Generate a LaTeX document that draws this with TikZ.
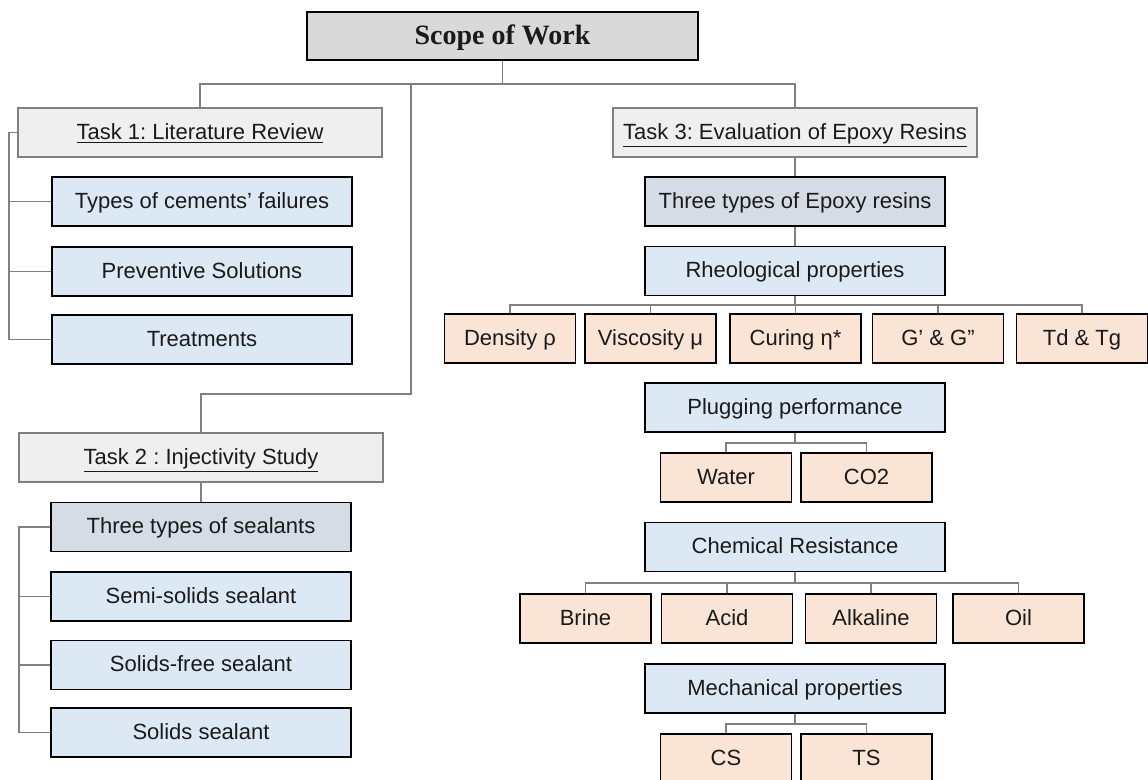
\documentclass[tikz,border=0pt]{standalone}
\usepackage{fontspec}
\setmainfont{Liberation Sans}
\newfontfamily\titleserif{Liberation Serif}
\usepackage{xcolor}
\definecolor{scopegray}{RGB}{217, 217, 217}
\definecolor{taskgray}{RGB}{239, 239, 239}
\definecolor{typeblue}{RGB}{214, 220, 229}
\definecolor{propblue}{RGB}{221, 232, 245}
\definecolor{testpeach}{RGB}{250, 228, 214}
\definecolor{linkgray}{RGB}{128, 128, 128}
\definecolor{textdark}{RGB}{26, 26, 26}
\usepackage{tikz}
\usetikzlibrary{positioning, calc}
\frenchspacing

\begin{document}
\begin{tikzpicture}[x=0.5pt, y=-0.5pt,
		box/.style={draw=black, line width=0.9pt, minimum height=24.5pt, inner sep=2pt,
			text height=9pt, text depth=2pt, text=textdark, font=\fontsize{11}{13}\selectfont},
		scopebox/.style={box, fill=scopegray, line width=1.1pt, minimum width=195.5pt,
			minimum height=24pt, text height=11pt, text depth=2.5pt,
			font=\titleserif\bfseries\fontsize{14}{16}\selectfont},
		taskbox/.style={box, draw=linkgray, fill=taskgray, minimum width=182pt},
		typebox/.style={box, fill=typeblue, minimum width=150pt},
		propbox/.style={box, fill=propblue, minimum width=150pt},
		testbox/.style={box, fill=testpeach, minimum width=65.5pt},
		link/.style={draw=linkgray, line width=0.6pt}]
		\useasboundingbox[fill=white] (0,0) rectangle (1148,780);

		\node[scopebox] (scope) at (502.5,36) {Scope of Work};

		\node[taskbox] (task1) at (200,132.5) {\underline{Task 1: Literature Review}};
		\node[propbox] (fail) at (202,201.5) {Types of cements’ failures};
		\node[propbox] (prevent) at (202,271.5) {Preventive Solutions};
		\node[propbox] (treat) at (202,339.5) {Treatments};

		\node[taskbox] (task2) at (201,457.5) {\underline{Task 2 : Injectivity Study}};
		\node[typebox] (sealtypes) at (201,527) {Three types of sealants};
		\node[propbox] (semisolid) at (201,596.5) {Semi-solids sealant};
		\node[propbox] (solidfree) at (201,665) {Solids-free sealant};
		\node[propbox] (solid) at (201,732.5) {Solids sealant};

		\node[taskbox] (task3) at (795,132.5) {\underline{Task 3: Evaluation of Epoxy Resins}};
		\node[typebox] (epoxy) at (795,201.5) {Three types of Epoxy resins};
		\node[propbox] (rheo) at (795,271) {Rheological properties};
		\node[testbox] (dens) at (510,338.5) {Density ρ};
		\node[testbox] (visc) at (650.5,338.5) {Viscosity μ};
		\node[testbox] (cure) at (795.5,338.5) {Curing η*};
		\node[testbox] (modul) at (938,338.5) {G’ \& G”};
		\node[testbox] (temp) at (1082,338.5) {Td \& Tg};

		\node[propbox] (plug) at (795,407.5) {Plugging performance};
		\node[testbox] (water) at (726,477.5) {Water};
		\node[testbox] (cotwo) at (866.5,477.5) {CO2};

		\node[propbox] (chem) at (795,547) {Chemical Resistance};
		\node[testbox] (brine) at (585.5,618.5) {Brine};
		\node[testbox] (acid) at (727,618.5) {Acid};
		\node[testbox] (alkal) at (871,618.5) {Alkaline};
		\node[testbox] (oil) at (1018.5,618.5) {Oil};

		\node[propbox] (mech) at (795,688.5) {Mechanical properties};
		\node[testbox] (cs) at (726,758.5) {CS};
		\node[testbox] (ts) at (866.5,758.5) {TS};

		\coordinate (topbus) at (502.5,84);
		\coordinate (task2bend) at (411,394);
		\coordinate (litspine) at (9,132.5);
		\coordinate (sealspine) at (19,527);
		\coordinate (rheobus) at (795,305);
		\coordinate (plugbus) at (795,443);
		\coordinate (chembus) at (795,583);
		\coordinate (mechbus) at (795,724);

		\draw[link] (scope.south) -- (topbus) -| (task1.north);
		\draw[link] (topbus) -| (task3.north);
		\draw[link] (topbus) -| (task2bend) -| (task2.north);

		\draw[link] (task1.west) -- (litspine) |- (treat.west);
		\foreach \n in {fail, prevent}
			\draw[link] (\n.west) -- (\n.west -| litspine);

		\draw[link] (task2.south) -- (sealtypes.north);
		\draw[link] (sealtypes.west) -- (sealspine) |- (solid.west);
		\foreach \n in {semisolid, solidfree}
			\draw[link] (\n.west) -- (\n.west -| sealspine);

		\draw[link] (task3.south) -- (epoxy.north);
		\draw[link] (epoxy.south) -- (rheo.north);
		\draw[link] (rheo.south) -- (rheobus);
		\foreach \n in {dens, visc, cure, modul, temp}
			\draw[link] (rheobus) -| (\n.north);

		\draw[link] (plug.south) -- (plugbus);
		\foreach \n in {water, cotwo}
			\draw[link] (plugbus) -| (\n.north);

		\draw[link] (chem.south) -- (chembus);
		\foreach \n in {brine, acid, alkal, oil}
			\draw[link] (chembus) -| (\n.north);

		\draw[link] (mech.south) -- (mechbus);
		\foreach \n in {cs, ts}
			\draw[link] (mechbus) -| (\n.north);
	\end{tikzpicture}
\end{document}
